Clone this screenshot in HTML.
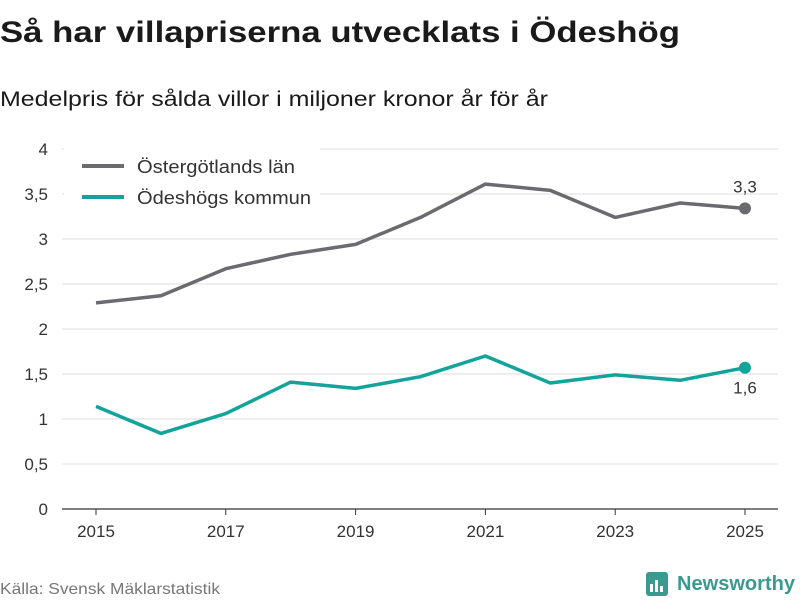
<!DOCTYPE html>
<html><head><meta charset="utf-8"><style>
body{margin:0;background:#fff;}
svg{display:block;font-family:"Liberation Sans","DejaVu Sans",sans-serif;}
</style></head><body>
<svg id="chart" width="800" height="600" viewBox="0 0 800 600">
<text x="0" y="42" font-size="30" font-weight="bold" fill="#1a1a1a" textLength="680" lengthAdjust="spacingAndGlyphs">Så har villapriserna utvecklats i Ödeshög</text>
<text x="0" y="106" font-size="21" fill="#1a1a1a" textLength="548" lengthAdjust="spacingAndGlyphs">Medelpris för sålda villor i miljoner kronor år för år</text>
<g id="grid"></g><g id="yticks"></g><g id="xticks"></g>
<g id="legend">
<rect x="64" y="142" width="256" height="76" fill="#fff"/>
<line x1="82" y1="166" x2="124" y2="166" stroke="#6b6a70" stroke-width="4"/>
<text x="137" y="173" font-size="18" fill="#333" textLength="158" lengthAdjust="spacingAndGlyphs">Östergötlands län</text>
<line x1="82" y1="197" x2="124" y2="197" stroke="#12a39a" stroke-width="4"/>
<text x="137" y="204" font-size="18" fill="#333" textLength="174" lengthAdjust="spacingAndGlyphs">Ödeshögs kommun</text>
</g>
<g id="series"></g>
<text x="0" y="594" font-size="16" fill="#777" textLength="220" lengthAdjust="spacingAndGlyphs">Källa: Svensk Mäklarstatistik</text>
<g>
<rect x="646" y="572" width="22" height="24" rx="3" fill="#3a9a90"/>
<rect x="650" y="584" width="3" height="8" fill="#fff"/><rect x="655" y="580" width="3" height="12" fill="#fff"/><rect x="660" y="586" width="3" height="6" fill="#fff"/>
<text x="677" y="590" font-size="20" font-weight="bold" fill="#3a9a90" textLength="118" lengthAdjust="spacingAndGlyphs">Newsworthy</text>
</g>
</svg>
<script>
const years=[2015,2016,2017,2018,2019,2020,2021,2022,2023,2024,2025];
const ostergotland=[2.29,2.37,2.67,2.83,2.94,3.24,3.61,3.54,3.24,3.40,3.34];
const odeshog=[1.14,0.84,1.06,1.41,1.34,1.47,1.70,1.40,1.49,1.43,1.57];
const yTicks=[0,0.5,1,1.5,2,2.5,3,3.5,4];
const xTicks=[2015,2017,2019,2021,2023,2025];
const NS='http://www.w3.org/2000/svg';
const x=v=>96+(v-2015)*(745-96)/10;
const y=v=>509-v*90;
function mk(t,a,p){const e=document.createElementNS(NS,t);for(const k in a)e.setAttribute(k,a[k]);p.appendChild(e);return e;}
const fmt=v=>String(v).replace('.',',');
const grid=document.getElementById('grid'),yt=document.getElementById('yticks'),xt=document.getElementById('xticks'),ser=document.getElementById('series');
yTicks.forEach(v=>{
 const l=mk('line',{x1:62,x2:778,y1:y(v),y2:y(v),stroke:v===0?'#333':'#ddd','stroke-width':v===0?1.2:1},grid);
 
 
 const t=mk('text',{x:48,y:y(v)+6,'font-size':17,fill:'#333','text-anchor':'end'},yt);t.textContent=fmt(v);
 
 
});
xTicks.forEach(v=>{
 const l=mk('line',{x1:x(v),x2:x(v),y1:509,y2:515,stroke:'#333'},xt);
 
 
 const t=mk('text',{x:x(v),y:537,'font-size':17,fill:'#333','text-anchor':'middle'},xt);t.textContent=v;
 
 
});
function draw(vals,color,name,labelDy){
 const p=mk('polyline',{points:vals.map((v,i)=>x(years[i])+','+y(v)).join(' '),fill:'none',stroke:color,'stroke-width':3.5,'stroke-linejoin':'round'},ser);
 
 
 const li=vals.length-1;
 const c=mk('circle',{cx:x(years[li]),cy:y(vals[li]),r:6,fill:color},ser);
 
 
 const t=mk('text',{x:x(years[li]),y:y(vals[li])+labelDy,'font-size':17,fill:'#333','text-anchor':'middle'},ser);
 t.textContent=fmt((Math.floor(vals[li]*10+0.5)/10).toFixed(1));
 
 
}
draw(ostergotland,'#6b6a70','ostergotland',-16);
draw(odeshog,'#12a39a','odeshog',26);
</script>
</body></html>
